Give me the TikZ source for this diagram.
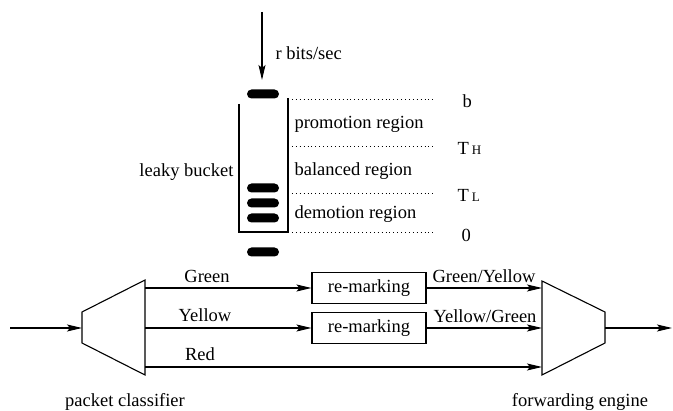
\documentclass[tikz,border=0pt]{standalone}
\usepackage{fontspec}
\setmainfont{Liberation Serif}
\newfontfamily\tms{Liberation Serif}
\usetikzlibrary{arrows.meta}
\begin{document}
\begin{tikzpicture}[x=1pt,y=-1pt,
  line width=1.1pt,
  every node/.style={font=\tms\fontsize{18.5}{22}\selectfont, inner sep=0pt},
  flow/.style={-{Stealth[length=15pt,width=7pt,inset=3pt]}},
  level/.style={line width=0.9pt, dash pattern=on 0.9pt off 3pt},
  pill/.style={fill=black, draw=none, rounded corners=4.5pt, minimum width=32pt, minimum height=9pt},
  markbox/.style={draw, minimum width=114pt, minimum height=31pt}]
\useasboundingbox (0,0) rectangle (673,411);

% incoming token stream
\coordinate (src) at (262,12);
\node[pill] (tok0) at (263,94) {};
\draw[flow] (src) -- (262,80) coordinate (srcend);
\node[anchor=west] (rate) at (275,53) {r bits/sec};

% bucket walls
\coordinate (bl) at (239,104);
\coordinate (br) at (288,98);
\draw (bl) |- (288,232) coordinate (bot) -- (br);
\node[anchor=east] (lbk) at (234,172) {leaky bucket};

% tokens inside the bucket and leaving it
\node[pill] (tok1) at (263,188) {};
\node[pill] (tok2) at (263,203) {};
\node[pill] (tok3) at (263,218) {};
\node[pill] (tok4) at (263,252) {};

% threshold levels
\draw[level] (288,99) -- (436,99) coordinate (lb);
\draw[level] (288,146) -- (436,146) coordinate (lth);
\draw[level] (288,193) -- (436,193) coordinate (ltl);
\draw[level] (288,232) -- (436,232) coordinate (l0);
\node[anchor=west] (tb) at (462,101) {b};
\node[anchor=west] (tth) at (457,148) {T\,{\fontsize{13}{15}\selectfont H}};
\node[anchor=west] (ttl) at (457,195) {T\,{\fontsize{13}{15}\selectfont L}};
\node[anchor=west] (t0) at (461,235) {0};
\node[anchor=west] (rp) at (294,124) {promotion region};
\node[anchor=west] (rb) at (294,171) {balanced region};
\node[anchor=west] (rd) at (294,214) {demotion region};

% packet classifier
\draw (82,312) -- (145,280) -- (145,375) -- (82,343) -- cycle;
\coordinate (cin) at (82,328);
\coordinate (cg) at (145,288);
\coordinate (cy) at (145,328);
\coordinate (cr) at (145,367);
\node (pc) at (125,402) {packet classifier};

% forwarding engine
\draw (542,281) -- (605,312) -- (605,343) -- (542,375) -- cycle;
\coordinate (fg) at (542,288);
\coordinate (fy) at (542,328);
\coordinate (fr) at (542,367);
\coordinate (fout) at (605,328);
\node (fe) at (580,402) {forwarding engine};

% re-marking stages
\node[markbox] (rm1) at (369,288) {re-marking};
\node[markbox] (rm2) at (369,328) {re-marking};

% connectors
\coordinate (in) at (10,328);
\coordinate (out) at (672,328);
\draw[flow] (in) -- (cin);
\draw[flow] (cg) -- (rm1.west);
\draw[flow] (cy) -- (rm2.west);
\draw[flow] (cr) -- (fr);
\draw[flow] (rm1.east) -- (fg);
\draw[flow] (rm2.east) -- (fy);
\draw[flow] (fout) -- (out);

% flow labels
\node (lg) at (207,276) {Green};
\node (ly) at (205,315) {Yellow};
\node (lr) at (200,354) {Red};
\node (lgy) at (484,276) {Green/Yellow};
\node (lyg) at (485,316) {Yellow/Green};
\end{tikzpicture}
\end{document}
